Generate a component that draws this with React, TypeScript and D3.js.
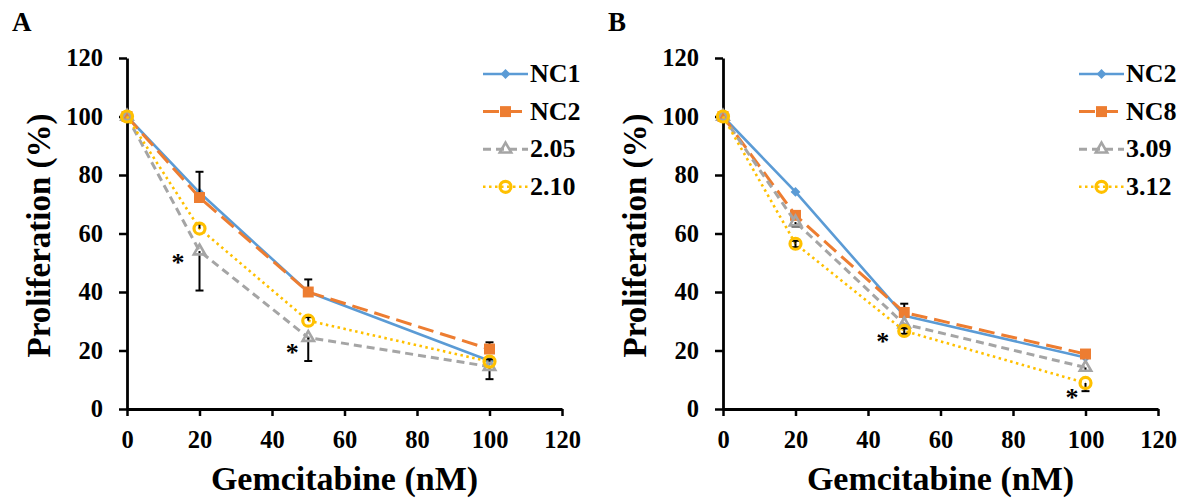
import React, { useEffect, useRef } from 'react';
import * as d3 from 'd3';

// doses on the x axis, ticks shared by both axes
const doses = [0, 20, 50, 100];
const axisTicks = [0, 20, 40, 60, 80, 100, 120];

// panel A
const namesA = ['NC1', 'NC2', '2.05', '2.10'];
const nc1A = [100, 74, 40, 16.5];
const nc2A = [100, 72.3, 40, 20.5];
const s205A = [100, 54, 24.4, 14.5];
const s210A = [100, 61.7, 30.2, 16.2];
const upA = [[0, 0, 0, 0], [0, 8.8, 4.3, 2.3], [0, 0, 0, 0], [0, 1.5, 1.2, 0.8]];
const downA = [[0, 0, 0, 0], [0, 0, 0, 0], [0, 13.5, 8, 4.3], [0, 0, 0, 0]];
const starsA = [[14.1, 51.3], [45.6, 20.5]];

// panel B
const namesB = ['NC2', 'NC8', '3.09', '3.12'];
const nc2B = [100, 74.2, 31.9, 17.6];
const nc8B = [100, 66.2, 33, 18.8];
const s309B = [100, 63.9, 29, 14.2];
const s312B = [100, 56.5, 26.7, 8.9];
const upB = [[0, 0, 0, 0], [0, 1.5, 3, 0.8], [0, 0, 0, 0], [0, 1, 1, 0]];
const downB = [[0, 0, 0, 0], [0, 0, 0, 0], [0, 1.5, 1.5, 1.2], [0, 1.2, 1, 2.8]];
const starsB = [[44.1, 24.3], [96.3, 5.1]];

const font = '"Liberation Serif", "Times New Roman", serif';

const looks = [
  { color: '#5B9BD5', dash: null, width: 2.6, marker: 'diamond' },
  { color: '#ED7D31', dash: '16,7', width: 3, marker: 'square' },
  { color: '#A5A5A5', dash: '8,5', width: 3, marker: 'triangle' },
  { color: '#FFC000', dash: '2.5,3.5', width: 2.6, marker: 'circle' }
];

function drawMarker(g, kind, color, cx, cy) {
  if (kind === 'diamond') {
    g.append('path')
      .attr('d', d3.symbol(d3.symbolSquare, 48)())
      .attr('transform', `translate(${cx},${cy}) rotate(45)`)
      .attr('fill', color);
  } else if (kind === 'square') {
    g.append('path')
      .attr('d', d3.symbol(d3.symbolSquare, 120)())
      .attr('transform', `translate(${cx},${cy})`)
      .attr('fill', color);
  } else if (kind === 'triangle') {
    g.append('path')
      .attr('d', d3.symbol(d3.symbolTriangle, 56)())
      .attr('transform', `translate(${cx},${cy})`)
      .attr('fill', 'none')
      .attr('stroke', color)
      .attr('stroke-width', 2.6);
  } else {
    g.append('circle')
      .attr('cx', cx)
      .attr('cy', cy)
      .attr('r', 5.5)
      .attr('fill', 'none')
      .attr('stroke', color)
      .attr('stroke-width', 3.2);
  }
}

function Panel({ left, letter, names, values, up, down, stars }) {
  const ref = useRef(null);

  useEffect(() => {
    const root = d3.select(ref.current);
    root.selectAll('*').remove();

    const x = d3.scaleLinear().domain([0, 120]).range([left, left + 435]);
    const y = d3.scaleLinear().domain([0, 120]).range([409, 58]);

    // axes
    const yAxis = d3.axisLeft(y).tickValues(axisTicks).tickSize(8).tickSizeOuter(0).tickPadding(16);
    const xAxis = d3.axisBottom(x).tickValues(axisTicks).tickSize(7).tickSizeOuter(0).tickPadding(15);

    const gy = root.append('g').attr('transform', `translate(${left},0)`).call(yAxis);
    const gx = root.append('g').attr('transform', `translate(0,${y(0)})`).call(xAxis);
    [gx, gy].forEach(a => {
      a.select('.domain').attr('stroke', '#000').attr('stroke-width', 2.8);
      a.selectAll('.tick line').attr('stroke', '#000').attr('stroke-width', 2.5);
      a.selectAll('.tick text')
        .attr('fill', '#000')
        .style('font-family', font)
        .style('font-weight', 'bold')
        .style('font-size', '24.5px');
    });

    // series
    const line = d3
      .line()
      .x((d, i) => x(doses[i]))
      .y(d => y(d));

    values.forEach((vals, s) => {
      const look = looks[s];
      const g = root.append('g');
      g.append('path')
        .attr('d', line(vals))
        .attr('fill', 'none')
        .attr('stroke', look.color)
        .attr('stroke-width', look.width)
        .attr('stroke-dasharray', look.dash)
        .attr('stroke-linejoin', 'round');

      vals.forEach((v, i) => {
        const cx = x(doses[i]);
        [[up[s][i], 1], [down[s][i], -1]].forEach(([e, dir]) => {
          if (!e) return;
          const ye = y(v + dir * e);
          g.append('line')
            .attr('x1', cx).attr('x2', cx)
            .attr('y1', y(v)).attr('y2', ye)
            .attr('stroke', '#000').attr('stroke-width', 2);
          g.append('line')
            .attr('x1', cx - 4).attr('x2', cx + 4)
            .attr('y1', ye).attr('y2', ye)
            .attr('stroke', '#000').attr('stroke-width', 2);
        });
      });

      vals.forEach((v, i) => drawMarker(g, look.marker, look.color, x(doses[i]), y(v)));
    });

    // significance marks
    root
      .selectAll('text.star')
      .data(stars)
      .enter()
      .append('text')
      .attr('class', 'star')
      .attr('x', d => x(d[0]))
      .attr('y', d => y(d[1]) + 12)
      .attr('text-anchor', 'middle')
      .style('font-family', font)
      .style('font-weight', 'bold')
      .style('font-size', '26px')
      .text('*');

    // legend
    const lg = root.append('g').attr('transform', `translate(${left + 356},0)`);
    names.forEach((name, s) => {
      const look = looks[s];
      const ry = 74 + s * 37.6;
      lg.append('line')
        .attr('x1', 0).attr('x2', 45)
        .attr('y1', ry).attr('y2', ry)
        .attr('stroke', look.color)
        .attr('stroke-width', look.width)
        .attr('stroke-dasharray', look.dash);
      drawMarker(lg, look.marker, look.color, 22.5, ry);
      lg.append('text')
        .attr('x', 47)
        .attr('y', ry + 8)
        .style('font-family', font)
        .style('font-weight', 'bold')
        .style('font-size', '26px')
        .text(name);
    });

    // titles
    root.append('text')
      .attr('transform', `translate(${left - 77},${(y(0) + y(120)) / 2 + 2}) rotate(-90)`)
      .attr('text-anchor', 'middle')
      .style('font-family', font)
      .style('font-weight', 'bold')
      .style('font-size', '33px')
      .text('Proliferation (%)');

    root.append('text')
      .attr('x', (x(0) + x(120)) / 2)
      .attr('y', 490)
      .attr('text-anchor', 'middle')
      .style('font-family', font)
      .style('font-weight', 'bold')
      .style('font-size', '34px')
      .text('Gemcitabine (nM)');

    root.append('text')
      .attr('x', left - 115)
      .attr('y', 31)
      .style('font-family', font)
      .style('font-weight', 'bold')
      .style('font-size', '27px')
      .text(letter);
  }, [left, letter, names, values, up, down, stars]);

  return <g ref={ref} />;
}

export default function App() {
  return (
    <svg width={1188} height={501} style={{ position: 'absolute', left: 0, top: 0, background: '#fff' }}>
      <Panel left={127} letter="A" names={namesA} values={[nc1A, nc2A, s205A, s210A]} up={upA} down={downA} stars={starsA} />
      <Panel left={723} letter="B" names={namesB} values={[nc2B, nc8B, s309B, s312B]} up={upB} down={downB} stars={starsB} />
    </svg>
  );
}
